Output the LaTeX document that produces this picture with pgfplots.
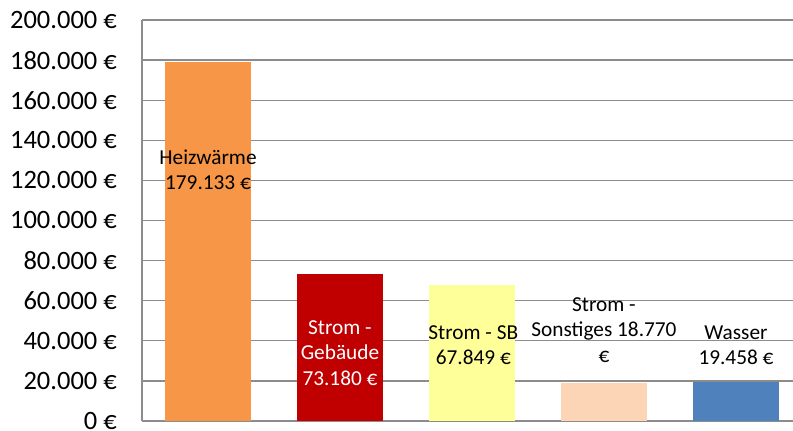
\documentclass[border=0pt]{standalone}
\usepackage{pgfplots}
\pgfplotsset{compat=1.18}
\usepackage{fontspec}
\setmainfont{Carlito}
\definecolor{cOrange}{HTML}{F79646}
\definecolor{cRed}{HTML}{C00000}
\definecolor{cYellow}{HTML}{FFFF99}
\definecolor{cPeach}{HTML}{FBD5B5}
\definecolor{cBlue}{HTML}{4F81BD}
\definecolor{cGrid}{HTML}{8C8C8C}
\begin{document}
\begin{tikzpicture}
\path[use as bounding box] (-142pt,-10pt) rectangle (651pt,421pt);
\begin{axis}[
  at={(0pt,0pt)}, anchor=south west,
  scale only axis,
  width=660pt, height=401pt,
  xmin=-0.5, xmax=4.5,
  ymin=0, ymax=200000,
  ybar, bar width=86pt, bar shift=0pt,
  xtick=\empty,
  ytick={0,20000,40000,60000,80000,100000,120000,140000,160000,180000,200000},
  yticklabels={0 €,20.000 €,40.000 €,60.000 €,80.000 €,100.000 €,120.000 €,140.000 €,160.000 €,180.000 €,200.000 €},
  yticklabel style={font=\fontsize{26.5}{30}\selectfont, inner sep=0pt, xshift=-25pt},
  major tick length=0pt,
  ymajorgrids,
  grid style={draw=cGrid, line width=1.3pt},
  axis x line*=bottom, axis y line*=left,
  axis line style={draw=cGrid, line width=1.3pt, -},
  scaled y ticks=false,
  clip=false,
]
\addplot[draw=none, fill=cOrange] coordinates {(0,179133)};
\addplot[draw=none, fill=cRed] coordinates {(1,73180)};
\addplot[draw=none, fill=cYellow] coordinates {(2,67849)};
\addplot[draw=none, fill=cPeach] coordinates {(3,18770)};
\addplot[draw=none, fill=cBlue] coordinates {(4,19458)};
\tikzset{lbl/.style={align=center, font=\fontsize{21.3}{25.5}\selectfont, inner sep=0pt}}
\node[lbl] at (axis cs:0,125187) {Heizwärme\\179.133 €};
\node[lbl, text=white] at (axis cs:1,33915) {Strom -\\Gebäude\\73.180 €};
\node[lbl] at (axis cs:2.01,37900) {Strom - SB\\67.849 €};
\node[lbl] at (axis cs:3,45387) {Strom -\\Sonstiges 18.770\\€};
\node[lbl] at (axis cs:4,37900) {Wasser\\19.458 €};
\end{axis}
\end{tikzpicture}
\end{document}
